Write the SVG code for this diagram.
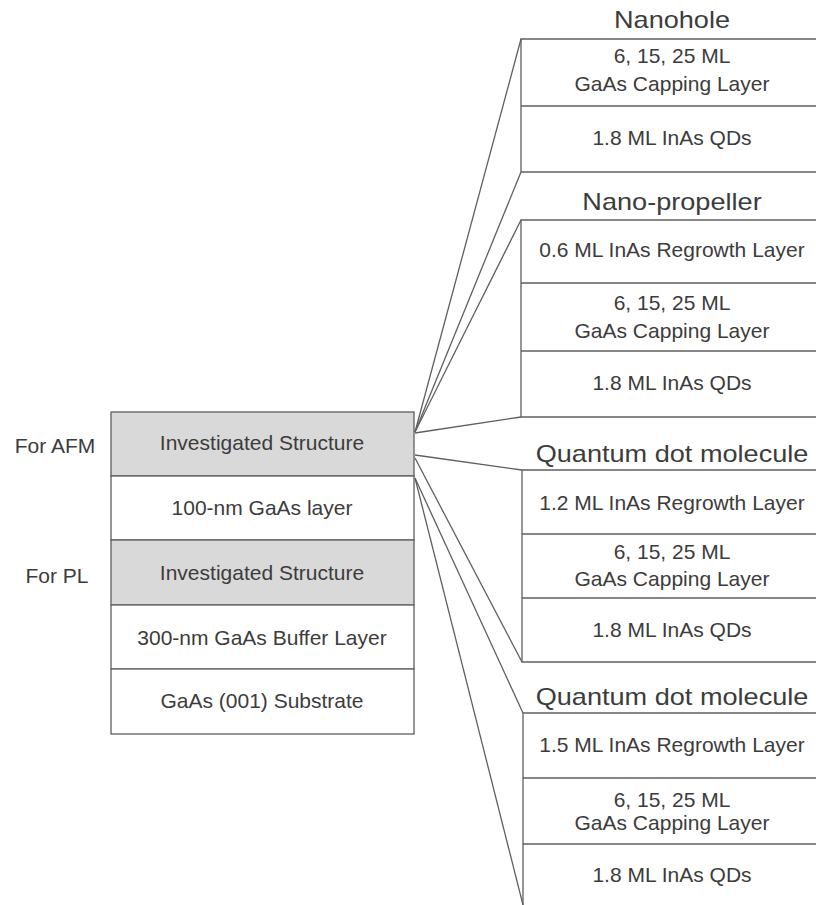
<svg xmlns="http://www.w3.org/2000/svg" width="816" height="905" viewBox="0 0 816 905">
<style>
  text { font-family: "Liberation Sans", Arial, sans-serif; fill: #3c3c3c; }
  .t { font-size: 21px; text-anchor: middle; }
  .h { font-size: 24px; text-anchor: middle; }
  .side { font-size: 21px; text-anchor: middle; }
  .ln { stroke: #5f5f5f; stroke-width: 1.3; fill: none; }
  .box { stroke: #5f5f5f; stroke-width: 1.3; fill: #ffffff; }
  .gray { stroke: #5f5f5f; stroke-width: 1.3; fill: #d9d9d9; }
</style>
<rect x="0" y="0" width="816" height="905" fill="#ffffff"/>

<g id="left-stack">
  <rect class="gray" x="111" y="412" width="303" height="64"/>
  <text class="t" x="262" y="450">Investigated Structure</text>
  <rect class="box" x="111" y="476" width="303" height="64"/>
  <text class="t" x="262" y="515">100-nm GaAs layer</text>
  <rect class="gray" x="111" y="540" width="303" height="65"/>
  <text class="t" x="262" y="580">Investigated Structure</text>
  <rect class="box" x="111" y="605" width="303" height="64"/>
  <text class="t" x="262" y="645">300-nm GaAs Buffer Layer</text>
  <rect class="box" x="111" y="669" width="303" height="65"/>
  <text class="t" x="262" y="708">GaAs (001) Substrate</text>
</g>

<g id="label-afm"><text class="side" x="55" y="453">For AFM</text></g>
<g id="label-pl"><text class="side" x="57" y="583">For PL</text></g>

<g id="connectors">
  <line class="ln" x1="415" y1="432" x2="521" y2="39"/>
  <line class="ln" x1="415" y1="432" x2="521" y2="172"/>
  <line class="ln" x1="415" y1="432" x2="521" y2="220"/>
  <line class="ln" x1="415" y1="433" x2="521" y2="417"/>
  <line class="ln" x1="415" y1="455" x2="522" y2="470"/>
  <line class="ln" x1="415" y1="458" x2="522" y2="662"/>
  <line class="ln" x1="415" y1="478" x2="523" y2="713"/>
  <line class="ln" x1="415" y1="478" x2="523" y2="905"/>
</g>

<g id="nanohole">
  <text class="h" transform="translate(672,28) scale(1.13,1)">Nanohole</text>
  <path class="ln" d="M816 39 H521 V172 H816 M521 106 H816"/>
  <text class="t" x="672" y="63">6, 15, 25 ML</text>
  <text class="t" x="672" y="91">GaAs Capping Layer</text>
  <text class="t" x="672" y="145">1.8 ML InAs QDs</text>
</g>

<g id="nano-propeller">
  <text class="h" transform="translate(672,210) scale(1.13,1)">Nano-propeller</text>
  <path class="ln" d="M816 220 H521 V417 H816 M521 283 H816 M521 351 H816"/>
  <text class="t" x="672" y="257">0.6 ML InAs Regrowth Layer</text>
  <text class="t" x="672" y="310">6, 15, 25 ML</text>
  <text class="t" x="672" y="338">GaAs Capping Layer</text>
  <text class="t" x="672" y="390">1.8 ML InAs QDs</text>
</g>

<g id="qdm-1">
  <text class="h" transform="translate(672,462) scale(1.13,1)">Quantum dot molecule</text>
  <path class="ln" d="M816 470 H522 V662 H816 M522 534 H816 M522 598 H816"/>
  <text class="t" x="672" y="510">1.2 ML InAs Regrowth Layer</text>
  <text class="t" x="672" y="559">6, 15, 25 ML</text>
  <text class="t" x="672" y="586">GaAs Capping Layer</text>
  <text class="t" x="672" y="637">1.8 ML InAs QDs</text>
</g>

<g id="qdm-2">
  <text class="h" transform="translate(672,705) scale(1.13,1)">Quantum dot molecule</text>
  <path class="ln" d="M816 713 H523 V905 M523 778 H816 M523 844 H816"/>
  <text class="t" x="672" y="752">1.5 ML InAs Regrowth Layer</text>
  <text class="t" x="672" y="807">6, 15, 25 ML</text>
  <text class="t" x="672" y="830">GaAs Capping Layer</text>
  <text class="t" x="672" y="882">1.8 ML InAs QDs</text>
</g>
</svg>
